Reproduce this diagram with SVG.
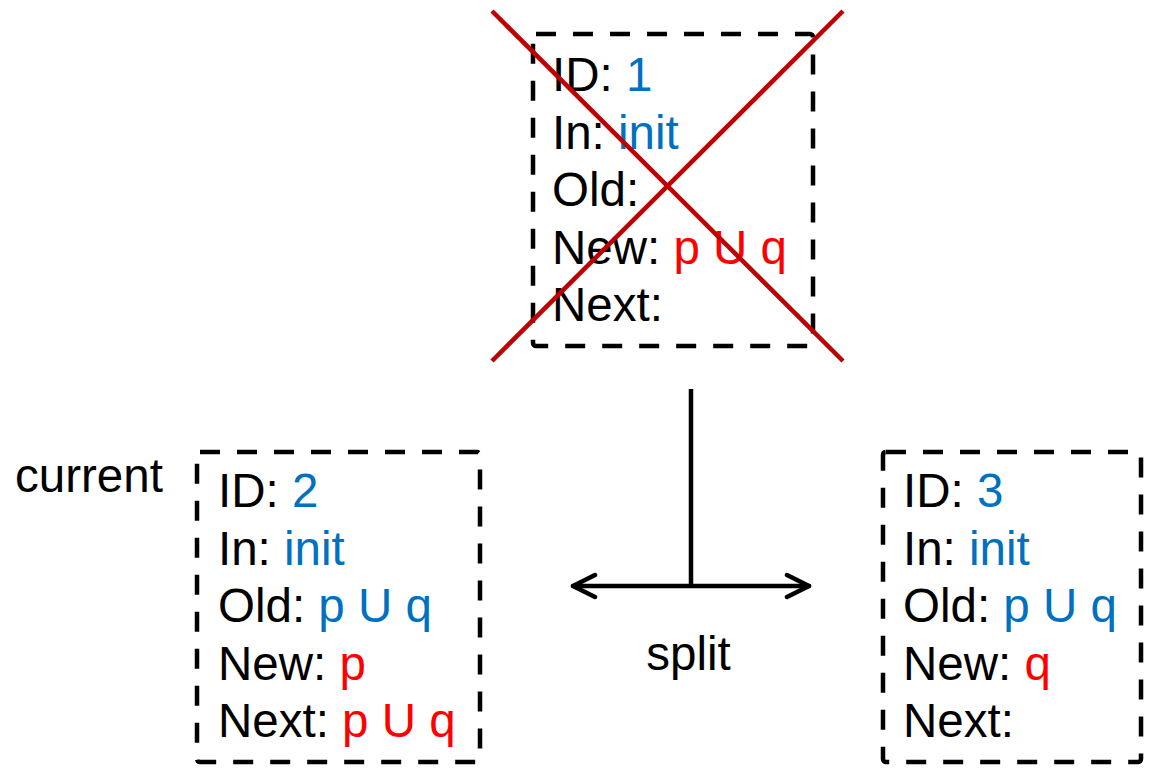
<svg xmlns="http://www.w3.org/2000/svg" width="1153" height="771" viewBox="0 0 1153 771">
<defs>
<style>
text{font-family:"Liberation Sans",Arial,sans-serif;font-size:47.5px;fill:#000}
.b{fill:#0070C0}
.r{fill:#FF0000}
.box{fill:none;stroke:#000;stroke-width:4.5;stroke-dasharray:20 17}
.ln{fill:none;stroke:#000;stroke-width:4.5;stroke-linecap:round;stroke-linejoin:round}
.x{stroke:#C00000;stroke-width:4.5;fill:none}
</style>
<marker id="ah" viewBox="0 0 30 30" refX="25" refY="15" markerWidth="30" markerHeight="30" markerUnits="userSpaceOnUse" orient="auto-start-reverse">
<path d="M3,4 L25,15 L3,26" fill="none" stroke="#000" stroke-width="4.5" stroke-linecap="round" stroke-linejoin="round"/>
</marker>
</defs>
<rect width="1153" height="771" fill="#fff"/>
<g id="node1">
<rect class="box" x="533" y="34" width="280" height="312" rx="3"/>
<text x="552" y="91">ID: <tspan class="b">1</tspan></text>
<text x="552" y="148.5">In: <tspan class="b">init</tspan></text>
<text x="552" y="206">Old:</text>
<text x="552" y="263.5">New: <tspan class="r">p U q</tspan></text>
<text x="552" y="321">Next:</text>
<line class="x" x1="492" y1="11" x2="843" y2="361"/>
<line class="x" x1="843" y1="11" x2="492" y2="361"/>
</g>
<g id="node2">
<text x="15" y="492">current</text>
<rect class="box" x="197" y="452" width="283" height="310" rx="3"/>
<text x="218" y="507">ID: <tspan class="b">2</tspan></text>
<text x="218" y="564.5">In: <tspan class="b">init</tspan></text>
<text x="218" y="622">Old: <tspan class="b">p U q</tspan></text>
<text x="218" y="679.5">New: <tspan class="r">p</tspan></text>
<text x="218" y="737">Next: <tspan class="r">p U q</tspan></text>
</g>
<g id="node3">
<rect class="box" x="883" y="452" width="258" height="310" rx="3"/>
<text x="903" y="507">ID: <tspan class="b">3</tspan></text>
<text x="903" y="564.5">In: <tspan class="b">init</tspan></text>
<text x="903" y="622">Old: <tspan class="b">p U q</tspan></text>
<text x="903" y="679.5">New: <tspan class="r">q</tspan></text>
<text x="903" y="737">Next:</text>
</g>
<g id="connectors">
<line class="ln" x1="691" y1="389" x2="691" y2="586" style="stroke-linecap:butt"/>
<line class="ln" x1="573" y1="586" x2="809" y2="586" marker-start="url(#ah)" marker-end="url(#ah)"/>
<text x="688.5" y="670" text-anchor="middle">split</text>
</g>
</svg>
